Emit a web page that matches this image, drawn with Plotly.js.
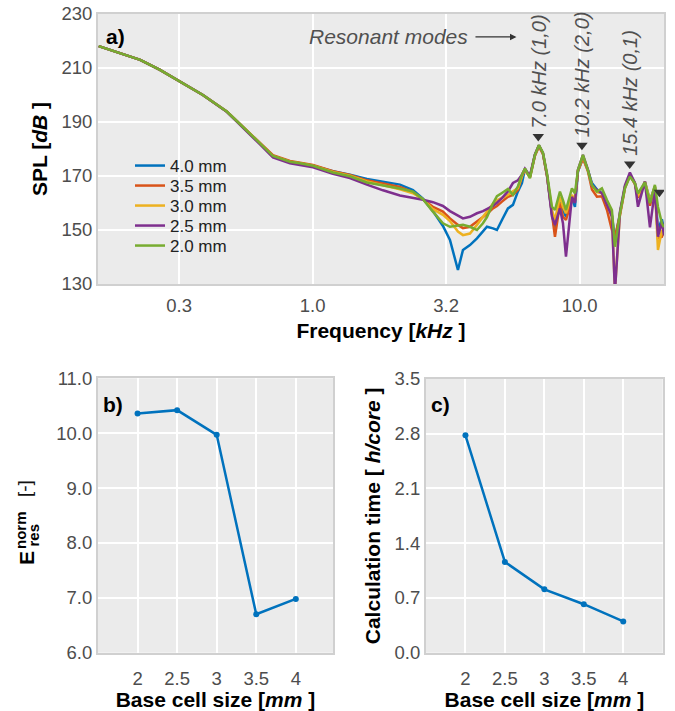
<!DOCTYPE html>
<html>
<head>
<meta charset="utf-8">
<script src="https://cdn.plot.ly/plotly-3.0.1.min.js"></script>
<style>
  html, body { margin: 0; padding: 0; background: #ffffff; }
  #chart { width: 675px; height: 711px; }
</style>
</head>
<body>
<div id="chart"></div>
<script>
// ---------- Data ----------
const freqKHz = [0.158, 0.226, 0.268, 0.318, 0.388, 0.478, 0.548, 0.635, 0.710, 0.822, 0.896, 1.003,
  1.191, 1.379, 1.597, 1.834, 2.123, 2.375, 2.589, 2.822, 3.076, 3.268, 3.501, 3.656, 3.883, 4.125,
  4.344, 4.497, 4.735, 4.901, 5.117, 5.389, 5.626, 5.874, 6.080, 6.239, 6.514, 6.801, 7.040, 7.287,
  7.543, 7.876, 8.083, 8.438, 8.660, 8.888, 9.358, 9.604, 9.855, 10.29, 10.74, 11.12, 11.61, 12.12,
  12.66, 13.21, 13.56, 14.16, 14.78, 15.43, 16.11, 16.54, 17.56, 18.34, 19.14, 19.65, 20.33, 20.7];

const spl_4_0 = [218.1, 213.0, 209.3, 204.9, 200.0, 193.8, 188.3, 182.1, 177.4, 175.3, 174.7, 173.8,
  171.8, 170.5, 168.9, 167.9, 166.8, 164.8, 161.6, 157.0, 151.5, 146.3, 135.2, 142.6, 144.4, 146.9,
  149.4, 151.2, 150.6, 150.0, 153.7, 158.0, 159.3, 164.3, 167.4, 172.5, 169.8, 177.8, 181.3, 178.4,
  170.4, 156.0, 150.0, 161.1, 157.4, 154.9, 161.8, 158.6, 171.5, 176.8, 172.2, 167.4, 165.0, 163.6,
  160.0, 155.5, 146.3, 156.2, 166.0, 170.4, 167.3, 162.0, 167.9, 161.0, 166.0, 150.0, 154.0, 150.0];

const spl_3_5 = [218.1, 213.0, 209.3, 204.9, 200.0, 193.8, 188.3, 182.3, 177.7, 175.6, 175.0, 174.1,
  171.8, 170.4, 168.4, 167.2, 165.9, 164.0, 161.4, 158.6, 156.8, 154.3, 151.9, 150.7, 151.2, 153.1,
  155.0, 155.9, 158.0, 158.9, 160.5, 162.3, 163.0, 164.9, 169.9, 172.3, 169.5, 177.5, 180.9, 178.2,
  170.2, 155.0, 147.5, 159.9, 154.9, 153.7, 161.1, 161.0, 171.8, 176.5, 171.8, 165.0, 162.3, 162.5,
  157.4, 150.0, 147.5, 155.5, 165.5, 170.2, 167.0, 162.0, 167.5, 159.0, 166.0, 147.0, 147.5, 150.0];

const spl_3_0 = [218.1, 213.0, 209.3, 204.9, 200.0, 193.8, 188.3, 182.1, 177.4, 175.3, 174.7, 173.8,
  171.5, 170.1, 168.0, 166.6, 165.1, 163.6, 161.4, 157.7, 155.6, 153.3, 149.4, 148.1, 148.7, 151.9,
  155.0, 156.8, 159.8, 161.0, 161.8, 163.0, 164.3, 165.5, 169.9, 172.5, 169.6, 177.7, 181.2, 178.3,
  170.3, 157.4, 153.7, 162.3, 158.6, 156.2, 163.0, 161.0, 172.0, 177.3, 172.0, 166.5, 164.0, 163.6,
  159.5, 155.0, 128.0, 156.0, 166.0, 170.4, 167.3, 162.5, 167.9, 160.8, 166.2, 142.6, 150.0, 148.0];

const spl_2_5 = [218.1, 213.0, 209.3, 204.9, 200.0, 193.7, 188.1, 181.7, 176.9, 174.7, 174.1, 173.2,
  170.8, 169.2, 166.8, 164.7, 162.8, 162.0, 161.2, 160.3, 158.9, 157.0, 155.2, 154.3, 154.9, 156.2,
  157.0, 157.7, 158.9, 160.1, 161.8, 164.3, 167.4, 168.4, 170.5, 172.7, 170.0, 178.0, 181.4, 178.5,
  170.5, 155.0, 151.9, 158.0, 152.5, 140.1, 162.3, 160.0, 172.3, 177.8, 172.4, 166.5, 164.8, 163.6,
  159.0, 155.0, 127.0, 156.8, 166.5, 171.3, 167.5, 158.6, 167.9, 151.0, 164.8, 147.5, 153.0, 148.0];

const spl_2_0 = [218.1, 213.0, 209.3, 204.9, 200.0, 193.8, 188.3, 182.1, 177.4, 175.3, 174.7, 173.8,
  171.3, 169.9, 167.6, 166.5, 165.4, 164.2, 161.4, 156.8, 152.5, 151.2, 151.5, 151.9, 151.2, 150.0,
  152.5, 154.8, 159.8, 162.5, 163.7, 165.2, 163.0, 166.2, 170.5, 172.8, 169.2, 177.8, 181.5, 178.6,
  171.0, 158.6, 157.4, 164.2, 161.1, 157.4, 165.4, 163.6, 172.2, 177.8, 172.2, 166.7, 164.2, 165.4,
  161.1, 157.4, 143.8, 156.2, 165.5, 169.8, 167.3, 163.6, 167.6, 159.9, 166.7, 158.6, 152.5, 151.0];

const seriesNames = ['4.0 mm', '3.5 mm', '3.0 mm', '2.5 mm', '2.0 mm'];
const seriesColors = ['#0072BD', '#D95319', '#EDB120', '#7E2F8E', '#77AC30'];

const modeFreq = [7.0, 10.2, 15.4, 19.9];
const modeSpl = [184.6, 181.4, 174.4, 164.0];
const modeLabels = ['7.0 kHz (1,0)', '10.2 kHz (2,0)', '15.4 kHz (0,1)'];

const splTickVals = [130, 150, 170, 190, 210, 230];
const freqTickVals = [0.3162, 1.0, 3.162, 10.0];
const freqTickText = ['0.3', '1.0', '3.2', '10.0'];

const cellSize = [2, 2.5, 3, 3.5, 4];
const cellTickText = ['2', '2.5', '3', '3.5', '4'];
const eresNorm = [10.36, 10.42, 9.97, 6.70, 6.98];
const calcTime = [2.78, 1.16, 0.81, 0.62, 0.40];
const calcTickVals = [0, 0.7, 1.4, 2.1, 2.8, 3.5];

// ---------- Figure ----------
const W = 675, H = 711;
const px = v => v / W;
const py = v => 1 - v / H;

const FONT = 'Liberation Sans, Arial, Helvetica, sans-serif';
const TICKFONT = {family: FONT, size: 18.5, color: '#4d4d4d'};
const TITLEFONT = {family: FONT, size: 21, color: '#000000'};

const legendRows = [166, 186, 206, 226, 246];
const splSeries = [spl_4_0, spl_3_5, spl_3_0, spl_2_5, spl_2_0];
const traces = splSeries.map((s, i) => ({
  x: freqKHz, y: s, type: 'scatter', mode: 'lines', name: seriesNames[i],
  line: {color: seriesColors[i], width: 2.5}, xaxis: 'x', yaxis: 'y',
  legend: i === 0 ? 'legend' : 'legend' + (i + 1)
}));

traces.push({
  x: modeFreq, y: modeSpl, type: 'scatter', mode: 'markers', showlegend: false,
  marker: {symbol: 'triangle-down', size: 10, color: '#333333'},
  xaxis: 'x', yaxis: 'y', cliponaxis: false
});

traces.push({
  x: cellSize, y: eresNorm, type: 'scatter', mode: 'lines+markers', showlegend: false,
  line: {color: '#0072BD', width: 2.5}, marker: {color: '#0072BD', size: 6},
  xaxis: 'x2', yaxis: 'y2'
});
traces.push({
  x: cellSize, y: calcTime, type: 'scatter', mode: 'lines+markers', showlegend: false,
  line: {color: '#0072BD', width: 2.5}, marker: {color: '#0072BD', size: 6},
  xaxis: 'x3', yaxis: 'y3'
});

const axisCommon = {
  showgrid: true, gridcolor: '#ffffff', gridwidth: 2, zeroline: false,
  showline: true, mirror: true, linecolor: '#d0d0d0', linewidth: 2,
  ticks: '', tickfont: TICKFONT, automargin: false
};

const annotations = [];
// panel labels
annotations.push({xref: 'paper', yref: 'paper', x: px(104), y: py(37), text: '<b>a)</b>',
  showarrow: false, xanchor: 'left', yanchor: 'middle', font: {family: FONT, size: 21, color: '#000'}});
annotations.push({xref: 'paper', yref: 'paper', x: px(101), y: py(404), text: '<b>b)</b>',
  showarrow: false, xanchor: 'left', yanchor: 'middle', font: {family: FONT, size: 21, color: '#000'}});
annotations.push({xref: 'paper', yref: 'paper', x: px(429), y: py(404), text: '<b>c)</b>',
  showarrow: false, xanchor: 'left', yanchor: 'middle', font: {family: FONT, size: 21, color: '#000'}});

// resonant modes
annotations.push({xref: 'x', yref: 'y', x: Math.log10(5.8), y: 221.5, ax: -128, ay: 0,
  text: '<i>Resonant modes</i>', showarrow: true, arrowhead: 2, arrowsize: 1, arrowwidth: 1.3,
  arrowcolor: '#333333', standoff: 0, startstandoff: 6,
  font: {family: FONT, size: 21, color: '#505050'}});

modeLabels.forEach((t, i) => {
  annotations.push({xref: 'x', yref: 'y', x: Math.log10(modeFreq[i]), y: modeSpl[i],
    text: '<i>' + t + '</i>', textangle: -90, showarrow: false, xanchor: 'center', yanchor: 'bottom',
    yshift: 6, font: {family: FONT, size: 20, color: '#505050'}});
});

// y title for panel b: E^norm_res [-]
const rotTitle = (x, y, text, size, color) => ({xref: 'paper', yref: 'paper', x: px(x), y: py(y),
  text: text, textangle: -90, showarrow: false, xanchor: 'center', yanchor: 'middle',
  font: {family: FONT, size: size, color: color}});
annotations.push(rotTitle(26, 558, '<b>E</b>', 21, '#000'));
annotations.push(rotTitle(20, 530, '<b>norm</b>', 15, '#000'));
annotations.push(rotTitle(32.5, 535, '<b>res</b>', 15, '#000'));
annotations.push(rotTitle(24, 489, '[-]', 19, '#111'));

const layout = {
  width: W, height: H,
  margin: {l: 0, r: 0, t: 0, b: 0},
  paper_bgcolor: '#ffffff', plot_bgcolor: '#ebebeb',
  font: {family: FONT},
  showlegend: true,
  xaxis: Object.assign({}, axisCommon, {
    type: 'log', domain: [px(98), px(664)], range: [-0.804, 1.316], anchor: 'y',
    tickvals: freqTickVals, ticktext: freqTickText, ticklabelstandoff: 4,
    title: {text: '<b>Frequency [<i>kHz</i> ]</b>', font: TITLEFONT, standoff: 8}
  }),
  yaxis: Object.assign({}, axisCommon, {
    domain: [py(284), py(14)], range: [130, 230], tickvals: splTickVals, anchor: 'x',
    title: {text: '<b>SPL [<i>dB</i> ]</b>', font: TITLEFONT, standoff: 8}
  }),
  xaxis2: Object.assign({}, axisCommon, {
    domain: [px(98), px(333)], range: [1.5, 4.47], anchor: 'y2',
    tickvals: cellSize, ticktext: cellTickText, ticklabelstandoff: 8,
    title: {text: '<b>Base cell size [<i>mm</i> ]</b>', font: TITLEFONT, standoff: 5}
  }),
  yaxis2: Object.assign({}, axisCommon, {
    domain: [py(652.7), py(378.3)], range: [6, 11], dtick: 1, tickformat: '.1f', anchor: 'x2'
  }),
  xaxis3: Object.assign({}, axisCommon, {
    domain: [px(426), px(662.7)], range: [1.5, 4.5], anchor: 'y3',
    tickvals: cellSize, ticktext: cellTickText, ticklabelstandoff: 8,
    title: {text: '<b>Base cell size [<i>mm</i> ]</b>', font: TITLEFONT, standoff: 5}
  }),
  yaxis3: Object.assign({}, axisCommon, {
    domain: [py(652.7), py(379)], range: [0, 3.5], tickvals: calcTickVals,
    tickformat: '.1f', anchor: 'x3',
    title: {text: '<b>Calculation time [ <i>h/core</i> ]</b>', font: TITLEFONT, standoff: 8}
  }),
  annotations: annotations
};

legendRows.forEach((row, i) => {
  const key = i === 0 ? 'legend' : 'legend' + (i + 1);
  layout[key] = {x: px(130), y: py(row), xanchor: 'left', yanchor: 'middle',
    bgcolor: 'rgba(0,0,0,0)', borderwidth: 0,
    font: {family: FONT, size: 17, color: '#222'}};
});

Plotly.newPlot('chart', traces, layout, {displayModeBar: false, staticPlot: true});
</script>
</body>
</html>
